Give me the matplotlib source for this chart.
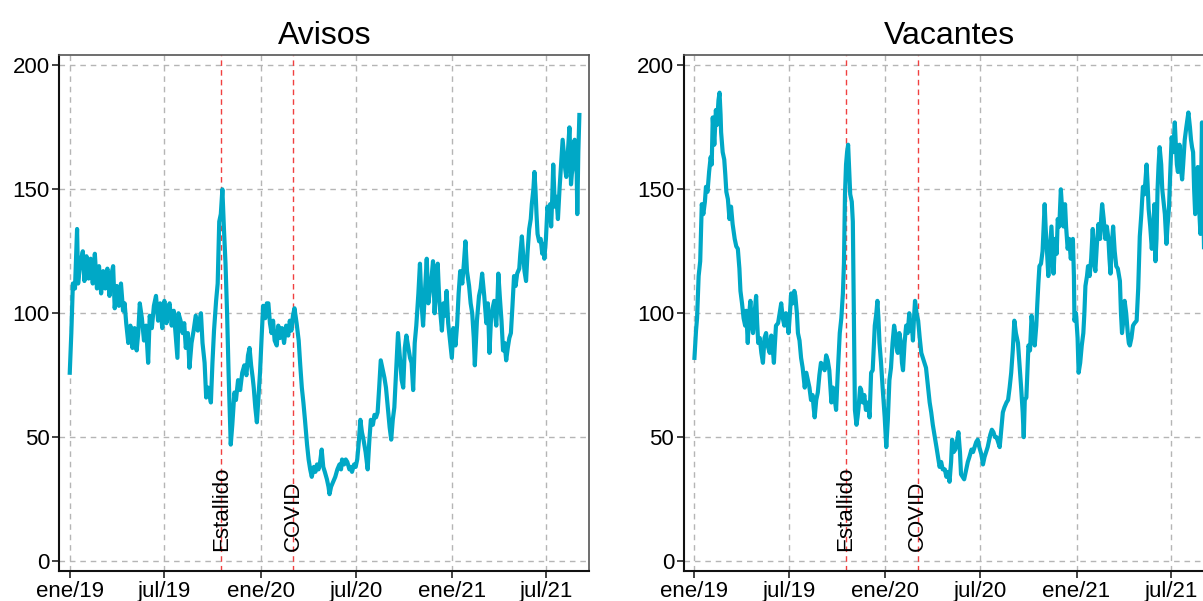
import numpy as np
import matplotlib
matplotlib.use("Agg")
import matplotlib.pyplot as plt
import matplotlib.dates as mdates

plt.rcParams['font.family'] = ['Liberation Sans', 'DejaVu Sans']

start = np.datetime64('2019-01-01')

titles = ["Avisos", "Vacantes"]
tick_dates = ['2019-01-01', '2019-07-01', '2020-01-01', '2020-07-01', '2021-01-01', '2021-07-01']
tick_labels = ['ene/19', 'jul/19', 'ene/20', 'jul/20', 'ene/21', 'jul/21']
event_dates = ['2019-10-18', '2020-03-03']
event_labels = ['Estallido', 'COVID']

# Avisos: day offset from 2019-01-01, index value
avisos_days = [0, 3, 6, 10, 14, 16, 20, 25, 28, 32, 36, 40, 44, 48, 52, 56, 60, 64, 68, 72, 76, 80, 83, 86, 90, 94, 98, 102, 105, 108,
               112, 116, 120, 124, 128, 131, 134, 138, 142, 146, 150, 153, 157, 161, 165, 169, 173, 177, 181, 185, 188, 191, 195, 199,
               203, 206, 208, 212, 216, 219, 222, 226, 229, 233, 237, 241, 245, 248, 251, 254, 258, 261, 265, 270, 273, 276, 280, 283,
               286, 289, 292, 295, 298, 301, 304, 308, 311, 315, 318, 322, 326, 330, 334, 338, 341, 344, 347, 350, 352, 355, 358, 361,
               364, 367, 370, 374, 377, 380, 383, 386, 389, 392, 396, 399, 402, 406, 410, 414, 418, 421, 424, 427, 430, 434, 438, 441,
               444, 447, 450, 454, 457, 460, 463, 467, 470, 473, 476, 479, 482, 485, 488, 492, 495, 497, 500, 504, 508, 512, 516, 519,
               521, 525, 528, 531, 535, 538, 540, 544, 547, 550, 553, 556, 559, 562, 566, 570, 573, 576, 580, 583, 586, 589, 592, 595,
               598, 602, 605, 608, 612, 615, 618, 621, 624, 628, 631, 635, 638, 641, 644, 648, 651, 654, 657, 660, 663, 667, 670, 673,
               676, 680, 683, 686, 689, 692, 695, 698, 701, 704, 707, 710, 712, 715, 718, 721, 724, 727, 731, 734, 738, 741, 744, 747,
               751, 754, 757, 760, 764, 767, 770, 773, 775, 779, 783, 786, 789, 793, 797, 800, 803, 806, 809, 812, 814, 816, 818, 820,
               823, 826, 829, 832, 835, 838, 841, 844, 847, 850, 853, 856, 860, 862, 865, 868, 870, 873, 876, 879, 882, 884, 887, 889,
               891, 893, 895, 898, 901, 904, 906, 908, 911, 914, 917, 919, 921, 923, 925, 928, 931, 934, 937, 940, 943, 946, 948, 950,
               953, 956, 958, 959, 962, 964, 966, 968, 970, 971, 973, 975]
avisos_vals = [76, 92, 112, 110, 134, 112, 120, 125, 113, 123, 114, 122, 112, 124, 110, 119, 108, 117, 110, 118, 107, 116, 119, 102, 111, 103, 112, 101, 104, 96,
               88, 95, 86, 94, 85, 92, 104, 98, 89, 95, 80, 99, 94, 103, 107, 97, 104, 94, 105, 96, 102, 104, 95, 101,
               90, 82, 100, 97, 92, 96, 86, 92, 78, 88, 93, 99, 93, 97, 100, 88, 80, 66, 70, 64, 80, 93, 105, 112,
               137, 140, 150, 134, 120, 100, 75, 47, 55, 68, 65, 73, 69, 76, 79, 75, 83, 86, 79, 74, 70, 62, 56, 66,
               76, 90, 103, 98, 104, 104, 96, 92, 97, 89, 87, 95, 90, 94, 88, 95, 91, 97, 93, 99, 102, 96, 89, 79,
               70, 64, 57, 47, 41, 37, 34, 38, 36, 39, 37, 40, 45, 38, 36, 33, 30, 27, 30, 32, 34, 37, 39, 37,
               41, 39, 41, 40, 37, 38, 36, 39, 38, 41, 48, 57, 52, 49, 44, 37, 48, 57, 55, 59, 58, 60, 70, 81,
               78, 74, 70, 63, 54, 49, 57, 62, 75, 92, 84, 73, 70, 86, 91, 86, 82, 80, 69, 88, 95, 108, 120, 104,
               95, 110, 122, 104, 109, 114, 121, 100, 112, 120, 105, 98, 93, 104, 99, 109, 96, 90, 82, 94, 87, 95, 108, 117,
               112, 120, 129, 117, 111, 104, 100, 90, 79, 97, 107, 110, 116, 107, 96, 104, 84, 98, 102, 105, 99, 95, 104, 116,
               106, 97, 85, 88, 81, 86, 90, 92, 103, 115, 111, 116, 118, 124, 131, 122, 117, 113, 125, 134, 138, 144, 150, 157,
               150, 140, 132, 129, 130, 124, 128, 122, 130, 143, 138, 144, 135, 146, 160, 143, 147, 138, 150, 160, 170, 163, 158, 155,
               165, 175, 162, 152, 160, 168, 170, 160, 156, 140, 165, 180]

# Vacantes: day offset from 2019-01-01, index value
vacantes_days = [0, 3, 5, 8, 11, 14, 17, 20, 22, 25, 28, 31, 33, 35, 38, 41, 43, 46, 48, 50, 51, 54, 57, 59, 61, 64, 67, 70, 73, 77,
                 80, 83, 86, 88, 91, 94, 97, 99, 102, 104, 107, 110, 112, 115, 118, 120, 122, 125, 128, 131, 134, 137, 140, 144, 147, 149,
                 152, 154, 156, 160, 163, 166, 169, 172, 175, 178, 180, 183, 185, 188, 191, 193, 196, 198, 201, 204, 207, 211, 214, 217,
                 220, 223, 226, 228, 230, 233, 236, 239, 242, 245, 249, 252, 255, 258, 262, 265, 268, 271, 274, 278, 281, 284, 286, 288,
                 290, 292, 294, 296, 298, 301, 303, 305, 307, 310, 312, 314, 317, 319, 322, 325, 328, 332, 335, 338, 341, 345, 348, 350,
                 352, 354, 357, 360, 364, 367, 370, 373, 376, 379, 382, 385, 387, 389, 392, 395, 397, 399, 402, 405, 408, 411, 414, 416,
                 418, 420, 422, 425, 428, 431, 434, 437, 440, 443, 446, 450, 453, 456, 460, 463, 466, 469, 472, 475, 479, 482, 485, 488,
                 491, 493, 496, 499, 502, 505, 508, 510, 513, 516, 519, 523, 526, 530, 533, 536, 539, 542, 545, 549, 552, 555, 558, 561,
                 564, 566, 569, 572, 575, 578, 581, 584, 587, 590, 593, 597, 600, 603, 606, 609, 612, 615, 619, 622, 625, 628, 630, 632,
                 635, 639, 642, 645, 648, 651, 654, 656, 658, 660, 663, 666, 670, 672, 674, 677, 680, 683, 685, 687, 690, 693, 695, 698,
                 701, 704, 706, 709, 711, 714, 717, 720, 722, 724, 726, 727, 730, 733, 735, 738, 741, 744, 746, 748, 751, 753, 756, 759,
                 762, 765, 767, 770, 773, 776, 778, 780, 783, 786, 789, 792, 794, 796, 798, 801, 804, 807, 810, 814, 816, 818, 821, 823,
                 826, 829, 831, 833, 836, 839, 842, 846, 849, 852, 855, 858, 861, 865, 867, 869, 872, 875, 878, 880, 882, 884, 886, 888,
                 890, 893, 895, 897, 900, 903, 905, 908, 910, 913, 916, 919, 921, 923, 925, 928, 930, 933, 935, 938, 941, 945, 948, 950,
                 952, 954, 956, 958, 961, 963, 965, 968, 971, 973, 975, 977]
vacantes_vals = [82, 93, 98, 115, 121, 144, 140, 145, 151, 149, 157, 163, 160, 179, 168, 182, 176, 186, 189, 180, 173, 165, 162, 156, 149, 146, 138, 143, 136, 130,
                 127, 126, 118, 109, 104, 98, 95, 101, 88, 98, 105, 95, 92, 100, 107, 96, 88, 90, 84, 80, 90, 92, 87, 84, 91, 88,
                 80, 88, 95, 96, 100, 104, 98, 95, 100, 96, 92, 101, 108, 104, 109, 107, 100, 92, 89, 82, 78, 70, 76, 73,
                 70, 65, 67, 62, 58, 65, 68, 75, 80, 79, 77, 83, 81, 77, 64, 70, 66, 61, 75, 92, 98, 108, 120, 148,
                 160, 165, 168, 158, 148, 145, 137, 100, 61, 55, 58, 62, 70, 69, 64, 67, 61, 64, 58, 76, 77, 95, 100, 105,
                 98, 88, 80, 70, 58, 46, 57, 73, 78, 88, 95, 91, 86, 84, 92, 88, 80, 77, 88, 95, 92, 100, 93, 95,
                 89, 98, 105, 100, 97, 90, 84, 82, 80, 78, 72, 64, 60, 55, 50, 46, 42, 38, 40, 37, 37, 34, 36, 32,
                 40, 49, 44, 45, 48, 52, 44, 35, 34, 33, 36, 40, 42, 45, 44, 46, 48, 49, 46, 43, 39, 42, 44, 46,
                 49, 51, 53, 52, 50, 50, 48, 46, 53, 60, 62, 64, 65, 70, 76, 85, 97, 92, 88, 79, 70, 60, 50, 65,
                 66, 87, 85, 99, 92, 87, 95, 104, 112, 119, 120, 125, 144, 134, 127, 115, 125, 135, 125, 116, 130, 124, 138, 135,
                 150, 140, 135, 144, 135, 126, 130, 122, 126, 130, 115, 97, 100, 90, 76, 80, 87, 92, 100, 111, 115, 119, 115, 122,
                 134, 120, 117, 128, 136, 130, 138, 144, 138, 130, 135, 130, 122, 116, 126, 135, 125, 119, 118, 113, 100, 92, 98, 105,
                 100, 92, 88, 87, 90, 95, 96, 97, 110, 131, 140, 151, 148, 160, 152, 142, 135, 126, 135, 144, 121, 130, 150, 160,
                 167, 160, 150, 146, 140, 128, 135, 143, 155, 171, 165, 177, 168, 160, 157, 168, 160, 154, 160, 170, 175, 181, 175, 170,
                 167, 165, 150, 140, 150, 159, 145, 132, 177, 150, 125, 150]

series_days = [avisos_days, vacantes_days]
series_vals = [avisos_vals, vacantes_vals]

W, H = 1203, 601
fig = plt.figure(figsize=(W / 100, H / 100), dpi=100)
ax_left_px = [59.3, 684.0]
ax_w_px = 530.0
ax_bottom_px = 571.0
ax_top_px = 55.0

line_color = '#00a8c6'
xlim = (np.datetime64('2018-12-12'), np.datetime64('2021-09-21'))

for i in range(2):
    ax = fig.add_axes([ax_left_px[i] / W, (H - ax_bottom_px) / H,
                       ax_w_px / W, (ax_bottom_px - ax_top_px) / H])
    dates = start + np.array(series_days[i], dtype='timedelta64[D]')
    ax.plot(dates, series_vals[i], color=line_color, lw=3.0, solid_joinstyle='round', zorder=3)
    ax.set_xlim(*xlim)
    ax.set_ylim(-4, 204.2)
    ax.set_yticks([0, 50, 100, 150, 200])
    ax.set_xticks([np.datetime64(d) for d in tick_dates])
    ax.set_xticklabels(tick_labels)
    ax.tick_params(axis='both', labelsize=16, length=5, width=1.2, direction='out', color='#222222', pad=2)
    ax.grid(True, color='#b5b5b5', linestyle=(0, (4, 3.5)), linewidth=1.0, zorder=0)
    for d, lab in zip(event_dates, event_labels):
        dd = np.datetime64(d)
        ax.axvline(dd, color='#f04040', linestyle=(0, (4, 3)), linewidth=1.0, zorder=2)
        ax.text(dd, 4, lab, rotation=90, ha='center', va='bottom', fontsize=16, color='black', zorder=4)
    ax.set_title(titles[i], fontsize=23, pad=8)
    for s in ['left', 'bottom']:
        ax.spines[s].set_color('#111111')
        ax.spines[s].set_linewidth(1.5)
    for s in ['top', 'right']:
        ax.spines[s].set_color('#555555')
        ax.spines[s].set_linewidth(1.2)

fig.savefig('out.png', dpi=100)
